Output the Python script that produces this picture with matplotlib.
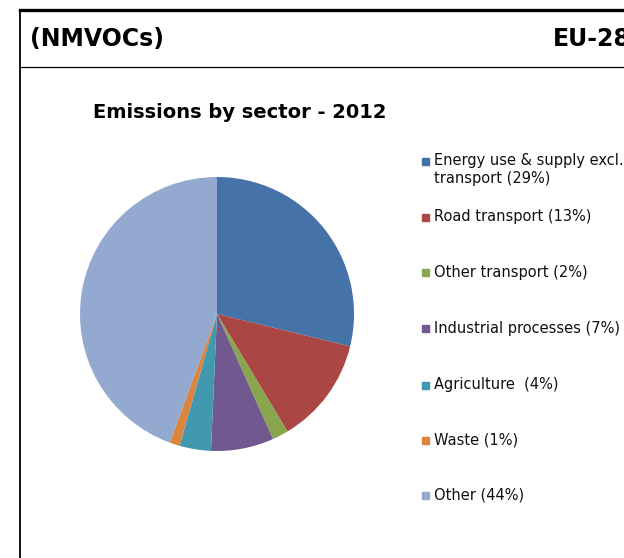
import matplotlib
matplotlib.use("Agg")
import matplotlib.pyplot as plt
from matplotlib.lines import Line2D
from matplotlib.patches import Rectangle

plt.rcParams['font.family'] = ['DejaVu Sans']

# ---- data ----
sectors = ["Energy use & supply excl.\ntransport (29%)", "Road transport (13%)",
           "Other transport (2%)", "Industrial processes (7%)",
           "Agriculture  (4%)", "Waste (1%)", "Other (44%)"]
shares = [28.8, 12.6, 1.9, 7.4, 3.7, 1.2, 44.4]
colors = ["#4572A7", "#AA4643", "#89A54E", "#71588F", "#4198AF", "#DB843D", "#93A9CF"]
header_left = "(NMVOCs)"
header_right = "EU-28"
title = "Emissions by sector - 2012"

W, H = 624, 558
fig = plt.figure(figsize=(W / 100, H / 100), dpi=100)

def fx(x):
    return x / W

def fy(y):
    return 1 - y / H

# frame lines
fig.add_artist(Line2D([fx(20), 1], [fy(10), fy(10)], color="black", lw=2.4))
fig.add_artist(Line2D([fx(20), fx(20)], [fy(10), 0], color="black", lw=1.3))
fig.add_artist(Line2D([fx(20), 1], [fy(67), fy(67)], color="black", lw=0.9))

# headers (the right one is cut by the panel edge, as in the reference)
fig.text(fx(30), fy(39), header_left, fontsize=17, fontweight="bold", va="center", ha="left")
fig.text(fx(553), fy(39), header_right, fontsize=17, fontweight="bold", va="center", ha="left")

# title
fig.text(fx(93), fy(112), title, fontsize=14, fontweight="bold", va="center", ha="left")

# pie
cx, cy, r = 217, 314, 137
ax = fig.add_axes([fx(cx - r), fy(cy + r), 2 * r / W, 2 * r / H])
ax.pie(shares, colors=colors, startangle=90, counterclock=False, radius=1,
       wedgeprops=dict(linewidth=0))
ax.set_xlim(-1, 1)
ax.set_ylim(-1, 1)
ax.set_aspect("equal")
ax.axis("off")

# legend
leg_y = [161, 217, 273, 328, 385, 440, 495]
for label, col, y in zip(sectors, colors, leg_y):
    fig.add_artist(Rectangle((fx(422), fy(y + 3.5)), 7 / W, 7 / H, color=col,
                             transform=fig.transFigure))
    if "\n" in label:
        fig.text(fx(434), fy(y + 8.5), label, fontsize=10.5, va="center", ha="left",
                 linespacing=1.2, color="#111111")
    else:
        fig.text(fx(434), fy(y), label, fontsize=10.5, va="center", ha="left",
                 color="#111111")

fig.savefig("out.png", dpi=100)
